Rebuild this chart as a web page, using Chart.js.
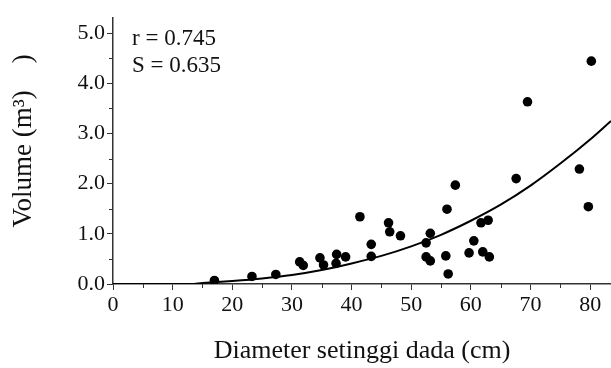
<!DOCTYPE html>
<html>
<head>
<meta charset="utf-8">
<script src="https://cdn.jsdelivr.net/npm/chart.js@4.4.0/dist/chart.umd.min.js"></script>
<style>
  html, body { margin: 0; padding: 0; background: #fff; }
</style>
</head>
<body>
<canvas id="g_volume" width="611" height="368"></canvas>
<script>
const diameter = [17.0, 23.3, 27.3, 31.3, 31.9, 34.7, 35.3, 37.5, 37.4, 39.0, 41.4, 43.3, 43.3, 46.2, 46.4, 48.2,
                  53.2, 52.5, 52.5, 53.2, 56.0, 55.8, 56.2, 57.4, 60.5, 59.7, 61.7, 62.9, 62.0, 63.1, 67.6, 69.5,
                  80.2, 78.2, 79.7];
const volume = [0.07, 0.15, 0.19, 0.44, 0.37, 0.52, 0.38, 0.59, 0.41, 0.54, 1.34, 0.79, 0.55, 1.22, 1.04, 0.96,
                1.01, 0.82, 0.54, 0.46, 1.49, 0.56, 0.20, 1.97, 0.86, 0.62, 1.22, 1.27, 0.64, 0.54, 2.10, 3.63,
                4.44, 2.29, 1.54];
// fitted curve
const curveX = [0, 5, 10, 13, 15, 20, 25, 30, 35, 40, 45, 50, 55, 60, 65, 70, 75, 80, 83.5];
const curveY = [0, 0, 0, 0, 0.02, 0.06, 0.11, 0.18, 0.28, 0.41, 0.56, 0.75, 0.98, 1.26, 1.58, 1.96, 2.40, 2.88, 3.25];
const xTicks = [0, 10, 20, 30, 40, 50, 60, 70, 80];
const xMinor = [5, 15, 25, 35, 45, 55, 65, 75];
const yTicks = [0, 1, 2, 3, 4, 5];
const yMinor = [0.5, 1.5, 2.5, 3.5, 4.5];
const stats = ['r = 0.745', 'S = 0.635'];

const serif = 'Liberation Serif';
const ink = '#111';

// minor ticks + the r / S note
const extras = {
    id: 'extras',
    afterDraw(chart) {
        const {ctx, chartArea, scales: {x, y}} = chart;
        ctx.save();
        ctx.strokeStyle = '#333';
        ctx.lineWidth = 1;
        ctx.beginPath();
        xMinor.forEach(v => {
            const px = Math.round(x.getPixelForValue(v)) + 0.5;
            ctx.moveTo(px, chartArea.bottom);
            ctx.lineTo(px, chartArea.bottom + 4);
        });
        yMinor.forEach(v => {
            const py = Math.round(y.getPixelForValue(v)) + 0.5;
            ctx.moveTo(chartArea.left, py);
            ctx.lineTo(chartArea.left - 4, py);
        });
        ctx.stroke();
        ctx.fillStyle = ink;
        ctx.font = '23px "' + serif + '"';
        ctx.textBaseline = 'alphabetic';
        ctx.fillText(stats[0], 132, 45);
        ctx.fillText(stats[1], 132, 72);
        ctx.restore();
    }
};

const ctx = document.getElementById('g_volume').getContext('2d');
const g_volume = new Chart(ctx, {
    type: 'scatter',
    data: {
        datasets: [{
            label: 'Volume',
            data: diameter.map((d, i) => ({x: d, y: volume[i]})),
            backgroundColor: '#000',
            borderWidth: 0,
            pointRadius: 4.8
        }, {
            label: 'Fit',
            data: curveX.map((d, i) => ({x: d, y: curveY[i]})),
            showLine: true,
            borderColor: '#000',
            borderWidth: 2,
            pointRadius: 0,
            cubicInterpolationMode: 'monotone'
        }]
    },
    options: {
        responsive: false,
        animation: false,
        layout: { autoPadding: false, padding: { top: 18, right: 0, left: 0, bottom: 0 } },
        plugins: { legend: { display: false }, tooltip: { enabled: false } },
        scales: {
            x: {
                type: 'linear',
                min: 0,
                max: 83.5,
                afterFit: s => { s.height = 84; s.paddingLeft = 0; s.paddingRight = 0; },
                afterBuildTicks: s => { s.ticks = xTicks.map(v => ({value: v})); },
                grid: { drawOnChartArea: false, tickLength: 6, tickColor: '#333', tickWidth: 1 },
                border: { color: '#333', width: 1.5 },
                ticks: {
                    autoSkip: false,
                    maxRotation: 0,
                    padding: 2,
                    color: ink,
                    font: { family: serif, size: 22 }
                },
                title: {
                    display: true,
                    text: 'Diameter setinggi dada (cm)',
                    color: ink,
                    font: { family: serif, size: 26 },
                    padding: { top: 0, bottom: 1 }
                }
            },
            y: {
                min: 0,
                max: 5.3,
                afterFit: s => { s.width = 113; s.paddingTop = 0; s.paddingBottom = 0; },
                afterBuildTicks: s => { s.ticks = yTicks.map(v => ({value: v})); },
                grid: { drawOnChartArea: false, tickLength: 6, tickColor: '#333', tickWidth: 1 },
                border: { color: '#333', width: 1.5 },
                ticks: {
                    autoSkip: false,
                    padding: 2,
                    color: ink,
                    font: { family: serif, size: 22 },
                    callback: v => v.toFixed(1)
                },
                title: {
                    display: true,
                    text: '   Volume (m³)    )',
                    color: ink,
                    font: { family: serif, size: 27 },
                    padding: { top: 8, bottom: 0 }
                }
            }
        }
    },
    plugins: [extras]
});
</script>
</body>
</html>
